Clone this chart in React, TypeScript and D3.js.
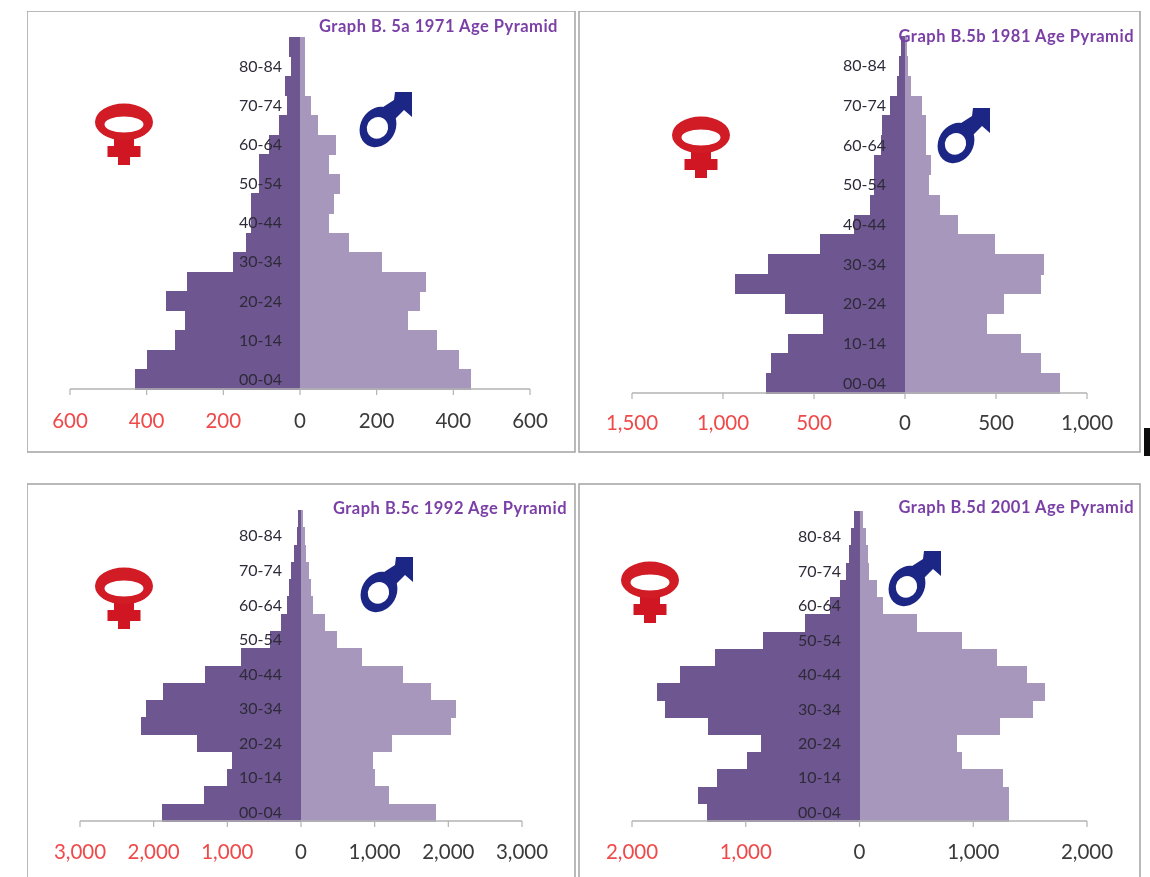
import React from "react";
import * as d3 from "d3";

const ages = ["00-04","05-09","10-14","15-19","20-24","25-29","30-34","35-39","40-44","45-49","50-54","55-59","60-64","65-69","70-74","75-79","80-84","85+"];
const labelledAges = ["00-04","10-14","20-24","30-34","40-44","50-54","60-64","70-74","80-84"];

const female1971 = [431,398,325,300,349,296,176,142,128,128,107,107,81,55,35,39,23,30];
const male1971 = [446,415,357,281,312,329,215,129,75,89,105,75,94,48,29,12,12,12];
const female1981 = [761,735,644,453,660,932,755,467,282,195,171,171,131,125,85,44,32,20];
const male1981 = [850,745,640,449,544,745,765,493,292,195,131,141,117,117,91,34,16,10];
const female1992 = [1887,1321,1011,934,1413,2177,2100,1867,1306,808,421,276,189,169,131,97,58,34];
const male1992 = [1829,1200,1006,982,1234,2037,2104,1766,1379,827,489,329,169,135,111,73,53,24];
const female2001 = [1340,1417,1250,985,863,1333,1707,1778,1581,1269,847,480,261,174,116,90,77,52];
const male2001 = [1317,1317,1262,899,857,1237,1527,1630,1469,1211,899,506,206,158,84,77,61,29];

const ticks1971 = [-600,-400,-200,0,200,400,600];
const ticks1981 = [-1500,-1000,-500,0,500,1000];
const ticks1992 = [-3000,-2000,-1000,0,1000,2000,3000];
const ticks2001 = [-2000,-1000,0,1000,2000];

const FEMALE = "#6e5690";
const MALE = "#a797bd";
const AXIS = "#b3b3b3";
const FONT = "Lato, 'Open Sans', sans-serif";
const fmt = d3.format(",");

type PanelProps = {
  title: string; female: number[]; male: number[]; ticks: number[];
  frame: [number, number, number, number];
  xRange: [number, number]; yRange: [number, number];
  titleEnd: number; titleY: number;
  femaleAt: [number, number]; maleAt: [number, number];
  labelEnd: number; tickY: number;
};

function FemaleIcon({ at }: { at: [number, number] }) {
  return (
    <g transform={`translate(${at[0]},${at[1]})`}>
      <path d="M-10,14 L10,14 L10,24 L16.5,24 L16.5,35 L6,35 L6,43 L-6,43 L-6,35 L-16.5,35 L-16.5,24 L-10,24 Z" fill="#cf1520" />
      <path fillRule="evenodd" fill="#d11a25"
        d="M-29,0 A29,18.5 0 1 1 29,0 A29,18.5 0 1 1 -29,0 Z M-19.5,2.5 A19.5,8 0 1 0 19.5,2.5 A19.5,8 0 1 0 -19.5,2.5 Z" />
    </g>
  );
}

function MaleIcon({ at }: { at: [number, number] }) {
  return (
    <g transform={`translate(${at[0]},${at[1]})`} fill="#1d2585">
      <path d="M2,-18 L16,-27 L17,-35 L34,-35 L34,-10 L26,-17 L13,-4 Z" />
      <g transform="rotate(30 0 0)">
        <path fillRule="evenodd"
          d="M-17.5,0 A17.5,21 0 1 1 17.5,0 A17.5,21 0 1 1 -17.5,0 Z M-10.5,1 A10.5,11 0 1 0 10.5,1 A10.5,11 0 1 0 -10.5,1 Z" />
      </g>
    </g>
  );
}

function Panel(p: PanelProps) {
  const x = d3.scaleLinear()
    .domain([p.ticks[0], p.ticks[p.ticks.length - 1]])
    .range(p.xRange);
  const y = d3.scaleBand<string>().domain(ages).range(p.yRange).padding(0);
  const [fx, fy, fw, fh] = p.frame;
  const axisY = p.yRange[0];
  return (
    <g>
      <rect x={fx} y={fy} width={fw} height={fh} fill="#fff" stroke="#a8a8a8" strokeWidth={1.6} />
      {ages.map((a, i) => (
        <g key={a} shapeRendering="crispEdges">
          <rect x={x(-p.female[i])} y={y(a)!} width={x(0) - x(-p.female[i])} height={y.bandwidth() + 0.5} fill={FEMALE} />
          <rect x={x(0)} y={y(a)!} width={x(p.male[i]) - x(0)} height={y.bandwidth() + 0.5} fill={MALE} />
        </g>
      ))}
      <line x1={x.range()[0]} x2={x.range()[1]} y1={axisY} y2={axisY} stroke={AXIS} strokeWidth={1.4} />
      {p.ticks.map((t) => (
        <g key={t}>
          <line x1={x(t)} x2={x(t)} y1={axisY} y2={axisY + 6} stroke={AXIS} strokeWidth={1.2} />
          <text x={x(t)} y={p.tickY} textAnchor="middle" fontFamily={FONT} fontSize={20.5}
            fill={t < 0 ? "#ef4a4a" : "#3a3a3a"}>
            {fmt(Math.abs(t))}
          </text>
        </g>
      ))}
      {labelledAges.map((a) => (
        <text key={a} x={p.labelEnd} y={y(a)! + y.bandwidth() / 2 + 5.5} textAnchor="end"
          fontFamily={FONT} fontSize={16} fill="#2e2a38">
          {a}
        </text>
      ))}
      <text x={p.titleEnd} y={p.titleY} textAnchor="end" fontFamily={FONT} fontWeight={700}
        fontSize={16.5} letterSpacing={0.5} fill="#7a3fa6">
        {p.title}
      </text>
      <FemaleIcon at={p.femaleAt} />
      <MaleIcon at={p.maleAt} />
    </g>
  );
}

export default function App() {
  return (
    <svg width={1150} height={877} viewBox="0 0 1150 877"
      style={{ position: "absolute", left: 0, top: 0, background: "#fff" }}>
      <defs>
        <filter id="soft" x="0" y="0" width="100%" height="100%">
          <feGaussianBlur stdDeviation="0.65" />
        </filter>
      </defs>
      <g filter="url(#soft)">
        <Panel title="Graph B. 5a 1971 Age Pyramid" female={female1971} male={male1971} ticks={ticks1971}
          frame={[27, 11, 548, 441]} xRange={[70, 530]} yRange={[389, 37]}
          titleEnd={558} titleY={32} femaleAt={[124, 122]} maleAt={[378, 127]} labelEnd={282} tickY={428} />
        <Panel title="Graph B.5b 1981 Age Pyramid" female={female1981} male={male1981} ticks={ticks1981}
          frame={[579, 11, 561, 441]} xRange={[632, 1087]} yRange={[393, 36]}
          titleEnd={1134} titleY={42} femaleAt={[701, 135]} maleAt={[956, 143]} labelEnd={886} tickY={430} />
        <Panel title="Graph B.5c 1992 Age Pyramid" female={female1992} male={male1992} ticks={ticks1992}
          frame={[27, 484, 548, 400]} xRange={[80, 522]} yRange={[821, 510]}
          titleEnd={567} titleY={514} femaleAt={[124, 586]} maleAt={[379, 592]} labelEnd={282} tickY={859} />
        <Panel title="Graph B.5d 2001 Age Pyramid" female={female2001} male={male2001} ticks={ticks2001}
          frame={[579, 484, 561, 400]} xRange={[632, 1087]} yRange={[821, 511]}
          titleEnd={1134} titleY={513} femaleAt={[650, 580]} maleAt={[907, 586]} labelEnd={841} tickY={859} />
        <rect x={1144} y={428} width={6} height={28} fill="#111" />
      </g>
    </svg>
  );
}
